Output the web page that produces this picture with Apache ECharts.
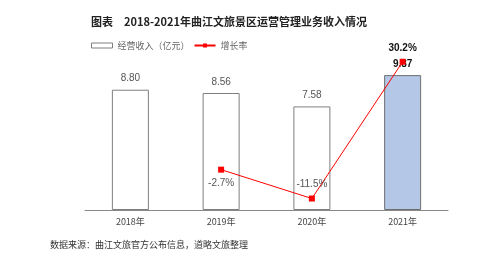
<!DOCTYPE html>
<html><head><meta charset="utf-8">
<script src="https://cdn.jsdelivr.net/npm/echarts@6/dist/echarts.min.js"></script>
<style>html,body{margin:0;padding:0;background:#fff}#c{width:500px;height:260px}</style>
</head><body><div id="c"></div>
<script>
var categories = ['2018年', '2019年', '2020年', '2021年'];
var revenue = [8.80, 8.56, 7.58, 9.87];
var growth = [null, -2.7, -11.5, 30.2];
var titleText = '图表　2018-2021年曲江文旅景区运营管理业务收入情况';
var sourceText = '数据来源：曲江文旅官方公布信息，道略文旅整理';

var CJK = '"Noto Sans CJK SC", sans-serif';
var chart = echarts.init(document.getElementById('c'), null, {renderer: 'canvas'});
var barData = revenue.map(function (v, i) {
  var last = i === revenue.length - 1;
  return {
    value: v,
    itemStyle: last ? {color: '#b4c7e7', borderColor: '#6f6f6f'} : {color: '#fff', borderColor: '#7f7f7f'},
    label: last ? {color: '#111', fontWeight: 'bold'} : {}
  };
});
var lineData = growth.map(function (v, i) {
  if (v === null) return null;
  var pos = v === -2.7 ? 'bottom' : 'top';
  var bold = i === growth.length - 1;
  return {value: v, label: {position: pos, color: bold ? '#111' : '#555', fontWeight: bold ? 'bold' : 'normal', distance: bold ? 5 : 6}};
});
chart.setOption({
  animation: false,
  title: {text: titleText, left: 86, top: 11, textStyle: {fontSize: 11, fontWeight: 'bold', color: '#222', fontFamily: CJK}},
  legend: {
    left: 86, top: 36, itemGap: 4, itemWidth: 21, itemHeight: 5,
    textStyle: {fontSize: 9, color: '#666', fontFamily: CJK},
    data: [
      {name: '经营收入（亿元）', icon: 'rect', itemStyle: {color: '#fff', borderColor: '#7f7f7f', borderWidth: 1}},
      {name: '增长率'}
    ]
  },
  grid: {left: 85, right: 52, top: 46, bottom: 50},
  xAxis: {
    type: 'category', data: categories,
    axisLine: {lineStyle: {color: '#888'}},
    axisTick: {length: 3, lineStyle: {color: '#888'}},
    axisLabel: {fontSize: 9, color: '#444', margin: 7, fontFamily: CJK}
  },
  yAxis: [
    {type: 'value', min: 0, max: 12, show: false},
    {type: 'value', min: -15, max: 35, show: false}
  ],
  series: [
    {
      name: '经营收入（亿元）', type: 'bar', barWidth: 37, data: barData,
      itemStyle: {borderWidth: 1},
      label: {show: true, position: 'top', distance: 6, fontSize: 10, color: '#555', fontFamily: 'Liberation Sans, Arial, sans-serif', formatter: function (p) { return p.value.toFixed(2); }}
    },
    {
      name: '增长率', type: 'line', yAxisIndex: 1, data: lineData, connectNulls: false,
      symbol: 'rect', symbolSize: 6, itemStyle: {color: '#ff0000'},
      lineStyle: {color: '#ff0000', width: 1},
      label: {show: true, fontSize: 10, fontFamily: 'Liberation Sans, Arial, sans-serif', formatter: function (p) { return p.value + '%'; }}
    }
  ],
  graphic: [{type: 'text', left: 50, top: 240, style: {text: sourceText, fontSize: 9, fill: '#333', fontFamily: CJK}}]
});
</script></body></html>
